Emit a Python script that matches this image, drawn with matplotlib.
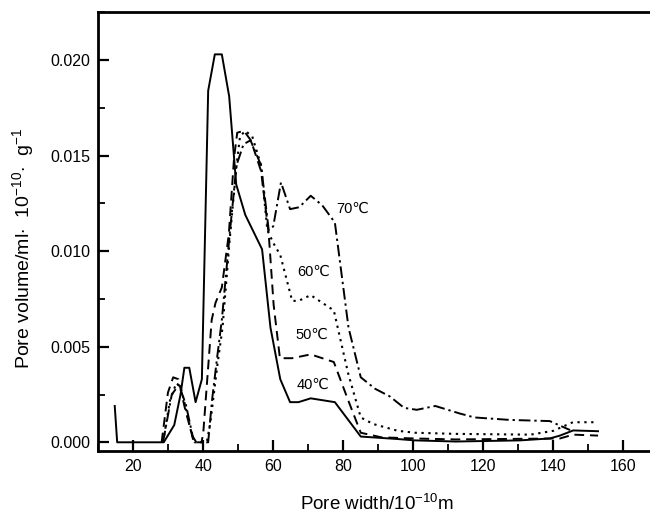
import matplotlib
matplotlib.use('Agg')
import matplotlib.pyplot as plt
from matplotlib.ticker import MultipleLocator, FormatStrFormatter

# pore width (1e-10 m) and pore volume for each temperature
x40 = [14.7, 15.4, 28.7, 31.7, 33.5, 34.6, 36.0, 37.8, 39.6, 41.4, 43.3, 45.3, 47.4, 49.4, 52.0, 56.8,
       59.2, 62.0, 64.8, 67.2, 70.7, 77.6, 85.0, 95.6, 100.4, 112.2, 130.5, 139.0, 141.9, 145.7, 152.8]
y40 = [0.0019, 0.0, 0.0, 0.0009, 0.0025, 0.0039, 0.0039, 0.0021, 0.0033, 0.0184, 0.0203, 0.0203, 0.0181,
       0.0135, 0.0119, 0.0101, 0.0060, 0.0033, 0.0021, 0.0021, 0.0023, 0.0021, 0.0003, 0.00017, 0.0001,
       0.00004, 0.0001, 0.0002, 0.00035, 0.00062, 0.00058]

x50 = [28.1, 29.9, 31.4, 32.9, 34.6, 36.6, 37.3, 39.5, 40.0, 42.4, 43.5, 45.3, 47.3, 48.8, 49.7, 51.6,
       53.6, 56.5, 58.7, 60.1, 61.9, 65.4, 70.7, 77.3, 81.4, 85.0, 90.9, 100.4, 112.2, 141.9, 145.7, 152.8]
y50 = [0.0, 0.0026, 0.0034, 0.0033, 0.0019, 0.0005, 0.0, 0.0, 0.0005, 0.0064, 0.0073, 0.0081, 0.0109,
       0.0149, 0.0162, 0.0163, 0.0158, 0.0142, 0.0109, 0.0072, 0.0044, 0.0044, 0.0046, 0.0042, 0.0022,
       0.0005, 0.00026, 0.0002, 0.00015, 0.0002, 0.0004, 0.00035]

x60 = [28.5, 30.5, 32.3, 33.5, 35.0, 36.6, 37.5, 41.0, 42.0, 44.0, 45.5, 47.5, 49.5, 50.5, 52.0, 54.0,
       56.5, 58.3, 60.1, 62.0, 65.4, 67.2, 70.7, 77.3, 81.4, 85.0, 88.5, 95.6, 100.4, 112.2, 133.5, 140.0,
       145.6, 152.8]
y60 = [0.0, 0.0022, 0.0031, 0.0029, 0.0018, 0.0005, 0.0, 0.0, 0.0010, 0.0040, 0.0060, 0.0105, 0.0145,
       0.0160, 0.0163, 0.0160, 0.0145, 0.0111, 0.0104, 0.0098, 0.0074, 0.0074, 0.0077, 0.0069, 0.0036,
       0.0013, 0.00096, 0.0006, 0.0005, 0.00044, 0.0004, 0.0006, 0.00105, 0.00105]

x70 = [28.5, 31.0, 33.0, 35.0, 37.0, 38.0, 41.4, 42.5, 44.0, 45.3, 47.5, 49.5, 51.5, 53.5, 56.5, 58.7,
       60.0, 62.2, 64.8, 67.4, 70.7, 74.0, 77.6, 81.5, 85.0, 89.1, 93.3, 97.4, 101.0, 106.3, 113.4, 117.5,
       127.6, 139.0, 144.8]
y70 = [0.0, 0.0025, 0.0030, 0.0020, 0.0003, 0.0, 0.0, 0.0022, 0.0045, 0.0064, 0.0108, 0.0145, 0.0156,
       0.0158, 0.0145, 0.0111, 0.0113, 0.0136, 0.0122, 0.0123, 0.0129, 0.0124, 0.0115, 0.0060, 0.0034,
       0.0028, 0.0024, 0.0018, 0.0017, 0.0019, 0.0015, 0.0013, 0.00117, 0.00111, 0.00064]

labels = ['40\u2103', '50\u2103', '60\u2103', '70\u2103']
label_x = [71.3, 71.0, 71.6, 82.6]
label_y = [0.0030, 0.0056, 0.0089, 0.0122]

plt.rcParams['font.family'] = ['Liberation Sans', 'DejaVu Sans']
plt.rcParams['mathtext.fontset'] = 'custom'
plt.rcParams['mathtext.rm'] = 'Liberation Sans'
plt.rcParams['mathtext.it'] = 'Liberation Sans'

fig = plt.figure(figsize=(6.5, 5.15), dpi=100)
ax = fig.add_axes([0.1512, 0.1243, 0.8615, 0.8518])

ax.plot(x40, y40, color='black', lw=1.4, linestyle='-')
ax.plot(x50, y50, color='black', lw=1.4, linestyle=(0, (5, 3)))
ax.plot(x60, y60, color='black', lw=1.5, linestyle=(0, (1.1, 2.2)))
ax.plot(x70, y70, color='black', lw=1.4, linestyle=(0, (6, 2, 1.2, 2)))

for t, lx, ly in zip(labels, label_x, label_y):
    ax.text(lx, ly, t, fontsize=10.5, ha='center', va='center')

ax.set_xlim(10, 170)
ax.set_ylim(-0.000455, 0.0225)
ax.xaxis.set_major_locator(MultipleLocator(20))
ax.xaxis.set_minor_locator(MultipleLocator(10))
ax.yaxis.set_major_locator(MultipleLocator(0.005))
ax.yaxis.set_minor_locator(MultipleLocator(0.0025))
ax.yaxis.set_major_formatter(FormatStrFormatter('%.3f'))

ax.tick_params(which='major', direction='in', length=8, width=1.6, labelsize=11.5, pad=6)
ax.tick_params(which='minor', direction='in', length=5, width=1.3)
ax.tick_params(axis='y', which='both', right=False)
ax.tick_params(axis='x', which='both', top=False)
for s in ax.spines.values():
    s.set_linewidth(2.0)

ax.set_xlabel(r'Pore width/10$^{-10}$m', fontsize=13.5)
ax.set_ylabel(r'Pore volume/ml$\cdot$  10$^{-10}$$\cdot$  g$^{-1}$', fontsize=14)
ax.xaxis.set_label_coords(0.497, -0.098)
ax.yaxis.set_label_coords(-0.111, 0.463)

plt.savefig('out.png', dpi=100)
